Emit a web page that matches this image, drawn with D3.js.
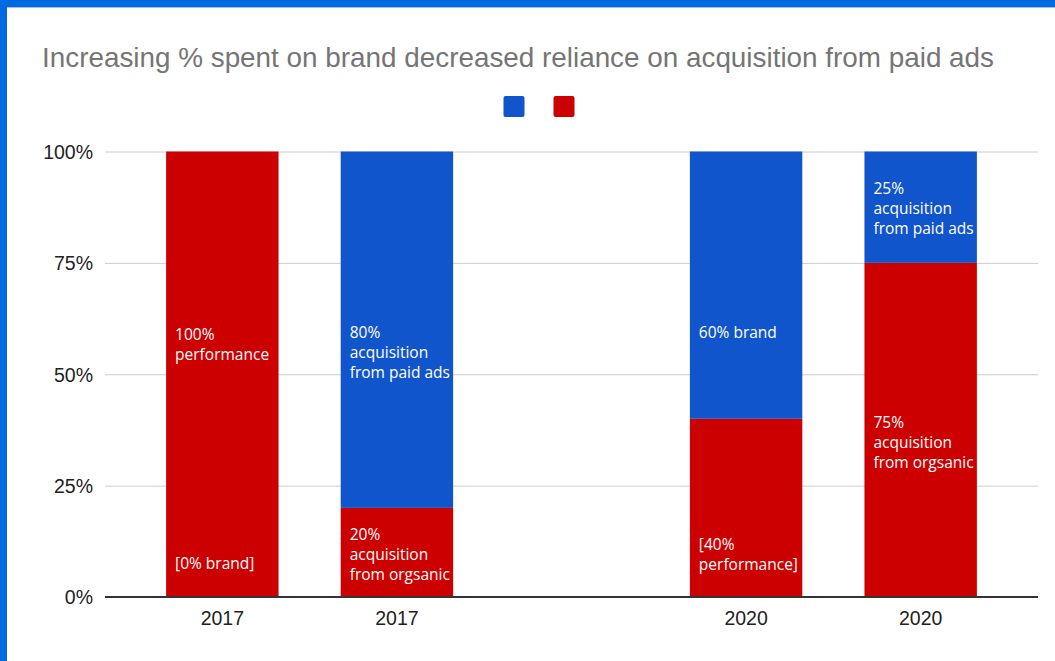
<!DOCTYPE html>
<html>
<head>
<meta charset="utf-8">
<script src="https://cdn.jsdelivr.net/npm/d3@7"></script>
<style>
  html, body { margin: 0; padding: 0; background: #fff; }
  svg { display: block; }
</style>
</head>
<body>
<svg id="chart" width="1055" height="661"></svg>
<script>
// Chart content
const title = "Increasing % spent on brand decreased reliance on acquisition from paid ads";
// One slot per column; the empty slot leaves the gap between the two years
const slots = ["a", "b", "gap", "c", "d"];
const categories = ["2017", "2017", "", "2020", "2020"];
// Stacked series (percent): red at the bottom, blue on top
const redValues = [100, 20, null, 40, 75];
const blueValues = [0, 80, null, 60, 25];
// Text written inside each segment
const redLabels = [
  ["100%", "performance"],
  ["20%", "acquisition", "from orgsanic"],
  null,
  ["[40%", "performance]"],
  ["75%", "acquisition", "from orgsanic"]
];
const blueLabels = [
  ["[0% brand]"],
  ["80%", "acquisition", "from paid ads"],
  null,
  ["60% brand"],
  ["25%", "acquisition", "from paid ads"]
];
// Level (percent) of each label's first line
const redLabelAt = [57.8, 12.8, null, 10.5, 37.9];
const blueLabelAt = [6.3, 58.1, null, 58.1, 90.4];
const yTicks = [0, 25, 50, 75, 100];

const BLUE = "#1155cc", RED = "#cc0000";

const svg = d3.select("#chart");

// Frame accent along the top and left edges
svg.append("rect").attr("x", 0).attr("y", 0).attr("width", 1055).attr("height", 7).attr("fill", "#006ae0");
svg.append("rect").attr("x", 0).attr("y", 7).attr("width", 1055).attr("height", 1).attr("fill", "#9cc3f0");
svg.append("rect").attr("x", 0).attr("y", 0).attr("width", 7).attr("height", 661).attr("fill", "#006ae0");

const plot = { left: 105, right: 1038, top: 151.5, bottom: 597 };

const x = d3.scaleBand()
  .domain(slots)
  .range([plot.left, plot.right])
  .paddingInner(0.356)
  .paddingOuter(0.35);

const y = d3.scaleLinear().domain([0, 100]).range([plot.bottom, plot.top]);

// Title
svg.append("text")
  .attr("x", 42).attr("y", 66.5)
  .attr("font-family", "'Liberation Sans', Arial, sans-serif")
  .attr("font-size", 27.5)
  .attr("fill", "#757575")
  .attr("textLength", 952)
  .attr("lengthAdjust", "spacingAndGlyphs")
  .text(title);

// Legend swatches (series have no names)
const legend = svg.append("g");
[BLUE, RED].forEach((c, i) => {
  legend.append("rect")
    .attr("x", 503.5 + i * 50).attr("y", 96)
    .attr("width", 21).attr("height", 21)
    .attr("rx", 2)
    .attr("fill", c);
});

// Gridlines + y axis labels
const yAxis = d3.axisLeft(y)
  .tickValues(yTicks)
  .tickSize(-(plot.right - plot.left))
  .tickPadding(12)
  .tickFormat(d => d + "%");
const gy = svg.append("g")
  .attr("transform", `translate(${plot.left},0)`)
  .call(yAxis);
gy.select(".domain").remove();
gy.selectAll(".tick line").attr("stroke", "#cccccc").attr("stroke-width", 1);
gy.selectAll(".tick text")
  .attr("font-family", "'Liberation Sans', Arial, sans-serif")
  .attr("font-size", 19.5)
  .attr("fill", "#222")
  .attr("dy", "0.35em");

// Stacked bars
const rows = slots.map((s, i) => ({ slot: s, red: redValues[i], blue: blueValues[i], i }))
  .filter(d => d.red !== null);

const bars = svg.append("g");
rows.forEach(d => {
  const x0 = x(d.slot), w = x.bandwidth();
  bars.append("rect")
    .attr("x", x0).attr("width", w)
    .attr("y", y(d.red)).attr("height", y(0) - y(d.red))
    .attr("fill", RED);
  if (d.blue > 0) {
    bars.append("rect")
      .attr("x", x0).attr("width", w)
      .attr("y", y(d.red + d.blue)).attr("height", y(d.red) - y(d.red + d.blue))
      .attr("fill", BLUE);
  }
});

// Baseline
svg.append("line")
  .attr("x1", plot.left).attr("x2", plot.right)
  .attr("y1", y(0)).attr("y2", y(0))
  .attr("stroke", "#333").attr("stroke-width", 2);

// X axis labels
const xAxis = d3.axisBottom(x)
  .tickSize(0)
  .tickPadding(14)
  .tickFormat((s, i) => categories[i]);
const gx = svg.append("g")
  .attr("transform", `translate(0,${y(0)})`)
  .call(xAxis);
gx.select(".domain").remove();
gx.selectAll(".tick text")
  .attr("font-family", "'Liberation Sans', Arial, sans-serif")
  .attr("font-size", 19.5)
  .attr("fill", "#222")
  .attr("dy", "0.71em");

// Segment labels
const labelFont = "'Open Sans', 'DejaVu Sans', sans-serif";
function drawLabel(lines, at, slot) {
  if (!lines) return;
  const x0 = x(slot), w = x.bandwidth();
  const t = svg.append("text")
    .attr("font-family", labelFont)
    .attr("font-size", 15.5)
    .attr("fill", "#fff");
  lines.forEach((ln, k) => {
    t.append("tspan").attr("y", y(at) + k * 20).text(ln);
  });
  // left inset, pulled back if the widest line would cross the bar edge
  const widest = d3.max(t.selectAll("tspan").nodes(), n => n.getComputedTextLength());
  const left = Math.min(x0 + 9, x0 + w - 2 - widest);
  t.selectAll("tspan").attr("x", left);
}
rows.forEach(d => {
  drawLabel(redLabels[d.i], redLabelAt[d.i], d.slot);
  drawLabel(blueLabels[d.i], blueLabelAt[d.i], d.slot);
});
</script>
</body>
</html>
